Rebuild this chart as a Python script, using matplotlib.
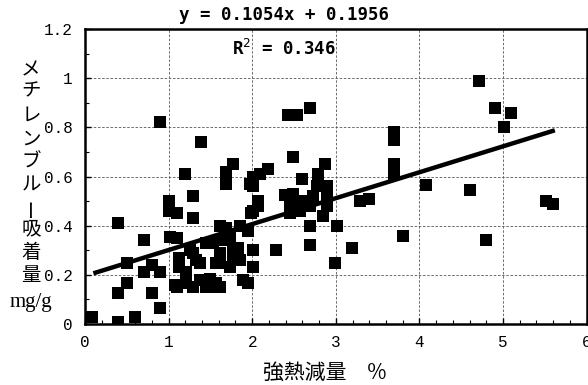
import numpy as np
import matplotlib.pyplot as plt
from matplotlib.ticker import MultipleLocator, FormatStrFormatter

# 強熱減量 (%) and メチレンブルー吸着量 (mg/g)
loss_x = [0.08, 0.40, 0.60, 0.40, 0.40, 0.50, 0.50, 0.70, 0.70, 0.80, 0.90, 0.80, 0.90, 0.90,
          1.00, 1.00, 1.10, 1.02, 1.10, 1.19, 1.29, 1.29, 1.39, 1.13, 1.25, 1.33, 1.13, 1.10,
          1.29, 1.45, 1.08, 1.21, 1.37, 1.49, 1.57, 1.53, 1.61, 1.45, 1.53, 1.61, 1.61, 1.57,
          1.65, 1.73, 1.77, 1.83, 1.77, 1.73, 1.85, 1.69, 1.61, 1.85, 1.95, 1.69, 1.69, 1.77,
          1.89, 1.95, 1.37, 1.29, 1.21,
          2.01, 2.01, 2.01, 1.97, 2.09, 2.01, 2.19, 2.07, 2.01, 2.07, 1.99, 2.29, 2.43, 2.53,
          2.69, 2.49, 2.59, 2.79, 2.87, 2.39, 2.45, 2.55, 2.73, 2.77, 2.69, 2.57, 2.45, 2.85,
          2.89, 2.89, 2.89, 2.69, 2.69, 2.99, 3.01, 2.65, 2.49,
          3.19, 3.29, 3.40, 3.70, 3.70, 3.70, 3.70, 3.80, 4.08, 4.60, 4.71, 4.80, 4.91, 5.01,
          5.10, 5.52, 5.60]
mb_y = [0.03, 0.01, 0.03, 0.41, 0.125, 0.165, 0.25, 0.34, 0.21, 0.24, 0.21, 0.125, 0.065, 0.82,
        0.50, 0.46, 0.45, 0.355, 0.35, 0.61, 0.52, 0.43, 0.74, 0.27, 0.30, 0.26, 0.23, 0.15,
        0.15, 0.15, 0.16, 0.165, 0.18, 0.185, 0.165, 0.15, 0.15, 0.33, 0.33, 0.29, 0.25, 0.25,
        0.34, 0.35, 0.31, 0.31, 0.27, 0.23, 0.26, 0.39, 0.40, 0.40, 0.38, 0.57, 0.62, 0.65,
        0.18, 0.165, 0.25, 0.29, 0.21,
        0.30, 0.23, 0.60, 0.57, 0.61, 0.56, 0.63, 0.50, 0.46, 0.48, 0.45, 0.30, 0.85, 0.85,
        0.88, 0.68, 0.59, 0.61, 0.65, 0.525, 0.50, 0.50, 0.52, 0.56, 0.48, 0.46, 0.45, 0.44,
        0.56, 0.53, 0.48, 0.40, 0.32, 0.25, 0.40, 0.50, 0.53,
        0.31, 0.50, 0.51, 0.78, 0.75, 0.65, 0.61, 0.36, 0.565, 0.545, 0.99, 0.34, 0.88, 0.80,
        0.86, 0.50, 0.49]

slope = 0.1054
intercept = 0.1956
r2 = 0.346
fit_range = [0.1, 5.62]

ylabel_chars = ['メ', 'チ', 'レ', 'ン', 'ブ', 'ル', 'ー', '吸', '着', '量']

plt.rcParams['font.family'] = ['Noto Sans CJK JP', 'DejaVu Sans']

fig = plt.figure(figsize=(5.88, 3.85), dpi=100)
ax = fig.add_axes([0.1446, 0.1584, 0.853, 0.7663])

ax.scatter(loss_x, mb_y, marker='s', s=85, color='black', zorder=3, linewidths=0)
fx = np.array(fit_range)
ax.plot(fx, slope * fx + intercept, color='black', lw=3.2, solid_capstyle='butt', zorder=4)

ax.set_xlim(0, 6)
ax.set_ylim(0, 1.2)
ax.xaxis.set_major_locator(MultipleLocator(1))
ax.xaxis.set_minor_locator(MultipleLocator(0.2))
ax.yaxis.set_major_locator(MultipleLocator(0.2))
ax.yaxis.set_minor_locator(MultipleLocator(0.1))
ax.yaxis.set_major_formatter(FormatStrFormatter('%g'))
ax.tick_params(which='both', direction='in', labelsize=11.5)
ax.tick_params(which='major', length=4, width=1)
ax.tick_params(which='minor', length=3, width=0.8)
ax.tick_params(axis='x', pad=8)
ax.tick_params(axis='y', pad=9)
for lab in ax.get_xticklabels() + ax.get_yticklabels():
    lab.set_family('Liberation Mono')
ax.grid(True, which='major', color='#555555', linestyle=(0, (3, 2)), linewidth=0.6)
for s in ax.spines.values():
    s.set_linewidth(1.8)

fig.text(284 / 588, 1 - 15 / 385, 'y = %.4fx + %.4f' % (slope, intercept), ha='center',
         va='center', family='DejaVu Sans Mono', fontweight='bold', fontsize=12.5)
ax.text(0.293, 0.932, 'R$^2$ = %.3f' % r2, transform=ax.transAxes, ha='left', va='center',
        family='DejaVu Sans Mono', fontweight='bold', fontsize=12.5)

# vertical Japanese y label
ys = [70, 91, 115, 139, 162, 185, 207, 229, 252, 275]
for ch, yp in zip(ylabel_chars, ys):
    fig.text(31 / 588, 1 - yp / 385, ch, ha='center', va='center', fontsize=14,
             rotation=90 if ch == 'ー' else 0)
fig.text(31 / 588, 1 - 302 / 385, 'mg/g', ha='center', va='center', fontsize=15,
         family='Liberation Serif')

fig.text(325 / 588, 1 - 373 / 385, '強熱減量　%', ha='center', va='center', fontsize=15)

fig.savefig('out.png', dpi=100)
